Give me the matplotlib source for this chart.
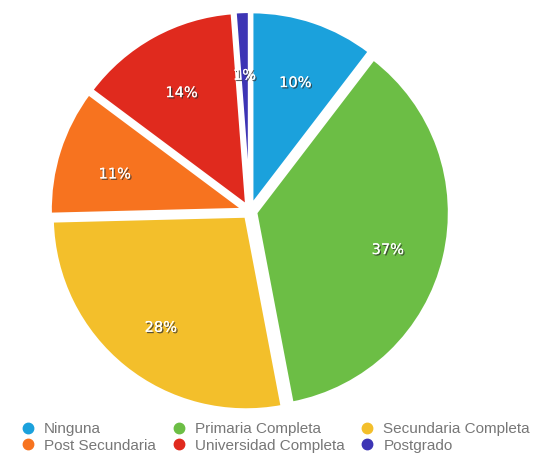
import matplotlib.pyplot as plt
import matplotlib.patheffects as pe
import matplotlib.transforms as mtransforms
from matplotlib.lines import Line2D

categorias = ["Ninguna", "Primaria Completa", "Secundaria Completa",
              "Post Secundaria", "Universidad Completa", "Postgrado"]
valores = [10.4, 36.6, 27.6, 10.6, 13.6, 1.2]
colores = ["#1ba1dc", "#6cbe45", "#f3bf2b", "#f7731f", "#e02a1e", "#3d35b5"]

fig = plt.figure(figsize=(5.36, 4.53), dpi=100)
ax = fig.add_axes([0.093, 0.092, 0.746, 0.883])

wedges, textos, autotextos = ax.pie(
    valores, colors=colores, startangle=90, counterclock=False,
    radius=0.97, explode=[0.03] * len(valores),
    autopct=lambda p: f"{p:.0f}%", pctdistance=0.7,
    wedgeprops=dict(edgecolor="white", linewidth=2.5),
    textprops=dict(color="white", fontsize=10.5))
# bajar un poco las etiquetas
bajar = mtransforms.ScaledTranslation(0, -4 / 72, fig.dpi_scale_trans)
for t in autotextos:
    t.set_transform(t.get_transform() + bajar)
    t.set_path_effects([pe.withSimplePatchShadow(offset=(1, -1), shadow_rgbFace="#333333", alpha=0.8),
                        pe.Normal()])
ax.set_xlim(-1, 1)
ax.set_ylim(-1, 1)
ax.set_aspect("auto")

# orden por filas como en el original
orden = [0, 3, 1, 4, 2, 5]
handles = [Line2D([], [], marker="o", linestyle="", markersize=7.5,
                  markerfacecolor=colores[i], markeredgecolor=colores[i]) for i in orden]
labels = [categorias[i] for i in orden]
leg = fig.legend(handles, labels, loc="upper left", bbox_to_anchor=(0.012, 0.098),
                 ncol=3, frameon=False, handletextpad=0.55,
                 columnspacing=1.0, labelspacing=0.15, handlelength=1.0,
                 prop=dict(family="Liberation Sans", size=11))
for t in leg.get_texts():
    t.set_color("#777777")

fig.savefig("out.png", dpi=100)
